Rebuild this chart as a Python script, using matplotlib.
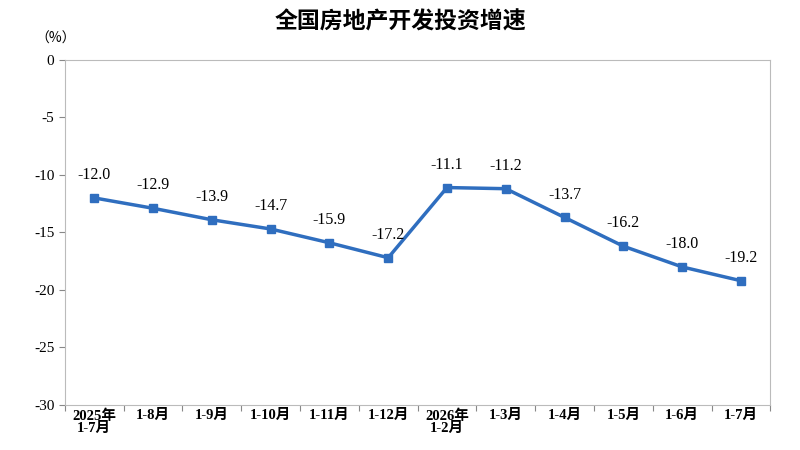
import matplotlib.pyplot as plt
import numpy as np

plt.rcParams['font.family'] = ['Liberation Serif', 'Noto Sans CJK SC']

labels = ["2025年\n1-7月", "1-8月", "1-9月", "1-10月", "1-11月", "1-12月",
          "2026年\n1-2月", "1-3月", "1-4月", "1-5月", "1-6月", "1-7月"]
values = [-12.0, -12.9, -13.9, -14.7, -15.9, -17.2,
          -11.1, -11.2, -13.7, -16.2, -18.0, -19.2]
yticks = [0, -5, -10, -15, -20, -25, -30]

fig = plt.figure(figsize=(8, 4.5), dpi=100)
ax = fig.add_axes([0.081, 0.1, 0.882, 0.767])

x = np.arange(len(values)) + 0.5
ax.plot(x, values, color="#2F6EBF", lw=2.5, marker="s", ms=5.5, zorder=3)
for xi, v in zip(x, values):
    ax.text(xi, v + 1.3, f"{v:.1f}", ha="center", va="bottom", fontsize=11.5)

ax.set_xlim(0, 12)
ax.set_ylim(-30, 0)
ax.set_yticks(yticks)
ax.set_yticklabels([str(t) for t in yticks], fontsize=11)
ax.set_xticks(np.arange(13), minor=False)
ax.set_xticklabels([])
ax.set_xticks(x, minor=True)
ax.set_xticklabels(labels, minor=True, fontsize=10.5, fontweight="bold", linespacing=0.9)
ax.tick_params(axis="x", which="minor", length=0, pad=3)
ax.tick_params(axis="x", which="major", length=4, color="#888888")
ax.tick_params(axis="y", length=4, color="#888888")
for s in ax.spines.values():
    s.set_color("#BBBBBB")
    s.set_linewidth(0.8)

fig.text(0.5, 0.95, "全国房地产开发投资增速", ha="center", va="center",
         fontsize=16.5, fontweight="bold", family=["Noto Sans CJK SC"])
fig.text(0.07, 0.915, "（%）", ha="center", va="center", fontsize=10,
         family=["Noto Sans CJK SC"])

fig.savefig("out.png", dpi=100)
